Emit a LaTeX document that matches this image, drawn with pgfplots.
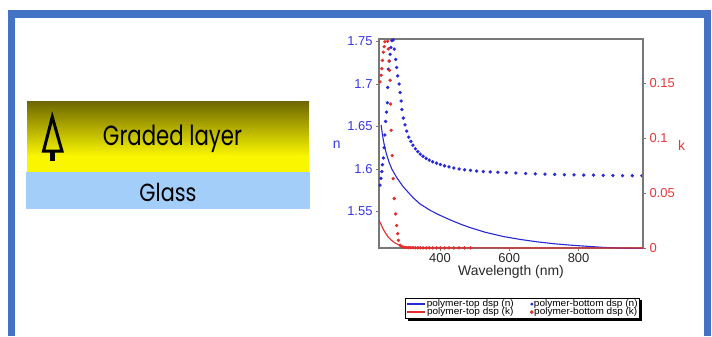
\documentclass[border=0pt]{standalone}
\usepackage{fontspec}
\setmainfont{Liberation Sans}
\newfontfamily\poppins{Poppins}
\usepackage{pgfplots}
\pgfplotsset{compat=1.18}
\pgfdeclarelayer{bgzero}
\pgfdeclarelayer{bgone}
\pgfsetlayers{bgzero,bgone,main}
\definecolor{frameblue}{RGB}{68,114,196}
\definecolor{olivetop}{RGB}{108,102,0}
\definecolor{ylw}{RGB}{250,246,0}
\definecolor{glass}{RGB}{163,206,250}
\definecolor{nblue}{RGB}{40,40,215}
\definecolor{kred}{RGB}{228,45,45}
\definecolor{nlab}{RGB}{55,55,225}
\definecolor{klab}{RGB}{232,55,55}
\definecolor{axgray}{RGB}{120,120,120}
\definecolor{txtgray}{RGB}{40,40,40}
\newcommand\legtext[1]{\scalebox{1.06}[1]{#1}}
\begin{document}
\begin{tikzpicture}
\begin{scope}[x=1bp,y=-1bp]
\useasboundingbox (0,0) rectangle (712,336);
\begin{pgfonlayer}{bgzero}
\fill[white] (0,0) rectangle (712,336);
\end{pgfonlayer}
\draw[frameblue, line width=7.5bp] (11.6,336) -- (11.6,14) -- (707.4,14) -- (707.4,336);
\shade[top color=olivetop, bottom color=ylw] (27,101) rectangle (309,156);
\fill[ylw] (27,155.5) rectangle (309,172);
\fill[glass] (26,172) rectangle (310,209);
\node[anchor=base, inner sep=0] at (172.5,145) {\resizebox{139bp}{20.5bp}{\poppins Graded layer}};
\node[anchor=base, inner sep=0] at (168,201.5) {\resizebox{57bp}{18.3bp}{\poppins Glass}};
\draw[line width=3bp, line join=miter] (52.3,117) -- (43.5,151.2) -- (62,151.2) -- cycle;
\fill (50,151) rectangle (55,161);
\end{scope}

\begin{axis}[
  scale only axis, width=264bp, height=209bp,
  at={(379bp,-248bp)}, anchor=south west,
  xmin=224, xmax=986, ymin=1.507, ymax=1.753,
  axis line style={axgray, line width=1.2bp},
  xtick={400,600,800}, ytick={1.55,1.6,1.65,1.7,1.75},
  xtick pos=bottom, ytick pos=left,
  tick align=outside, major tick length=3bp,
  tick style={axgray, line width=0.8bp},
  /pgf/number format/assume math mode=true,
  xticklabel style={font=\fontsize{13}{13}\selectfont, text=txtgray, yshift=1bp},
  yticklabel style={font=\fontsize{13}{13}\selectfont, text=nlab},
  ylabel={n}, ylabel style={font=\fontsize{14}{14}\selectfont, text=nlab, rotate=-90, at={(axis description cs:-0.16,0.493)}, anchor=center},
  xlabel={Wavelength (nm)}, xlabel style={font=\fontsize{14}{14}\selectfont, text=txtgray, at={(axis description cs:0.5,-0.116)}, anchor=center},
]
\addplot[nblue, line width=1.1bp] coordinates {
(230,1.652) (233,1.643) (236.5,1.634) (241,1.625) (246,1.617) (253,1.608) (261,1.600)
(275,1.590) (294,1.579) (323,1.566) (342,1.559) (371,1.5515) (400,1.5455) (430,1.540)
(460,1.535) (487,1.531) (531,1.5255) (583,1.5205) (630,1.5172) (680,1.5143) (730,1.512)
(776,1.5104) (825,1.509) (873,1.5077) (910,1.507) (950,1.5065) (986,1.506)};
\addplot[nblue, only marks, mark=*, mark size=1.5] coordinates {
(227,1.581) (229.5,1.589) (232,1.597) (234,1.605) (236.5,1.613) (239,1.625) (241,1.640)
(243,1.656) (245.5,1.667) (248,1.678) (249,1.696) (251,1.7175) (253.5,1.727) (256,1.735)
(258.5,1.743) (261,1.751) (265,1.752) (268,1.741) (272,1.729) (275,1.7195) (278,1.7095)
(282,1.700) (285,1.690) (288,1.680) (290,1.670) (294,1.660) (299,1.652) (304,1.6445)
(310,1.6375) (316,1.6325) (322,1.628) (329,1.6238) (336,1.6205) (343,1.6175) (351,1.615)
(360,1.6125) (369,1.6105) (379,1.6085) (390,1.6068) (401,1.6053) (413,1.6038) (426,1.6024)
(440,1.6011) (455,1.600) (471,1.5991) (488,1.5983) (506,1.5976) (525,1.597) (545,1.5965)
(567,1.5961) (591,1.5957) (619,1.5952) (647,1.5947) (675,1.5943) (703,1.5939) (731,1.5936)
(759,1.5933) (787,1.5931) (815,1.5929) (843,1.5927) (871,1.5925) (899,1.5923) (927,1.5922)
(955,1.5921) (983,1.592)};
\end{axis}

\begin{axis}[
  scale only axis, width=264bp, height=209bp,
  at={(379bp,-248bp)}, anchor=south west,
  xmin=224, xmax=986, ymin=0, ymax=0.19,
  axis x line=none, axis y line*=right,
  axis line style={axgray, line width=1.2bp, -},
  ytick={0,0.05,0.1,0.15},
  tick align=outside, major tick length=3bp,
  tick style={axgray, line width=0.8bp},
  scaled y ticks=false,
  /pgf/number format/assume math mode=true,
  yticklabel style={font=\fontsize{13}{13}\selectfont, text=klab, /pgf/number format/fixed, /pgf/number format/precision=2},
  ylabel={k}, ylabel style={font=\fontsize{14}{14}\selectfont, text=klab, rotate=-90, at={(axis description cs:1.1466,0.493)}, anchor=center},
  legend columns=2,
  legend style={name=leg, at={(0.0985,-0.239)}, anchor=north west, font=\fontsize{9.5}{9.5}\selectfont,
    draw=black, line width=0.7bp, fill=white,
    inner sep=1bp, row sep=-1.5bp, /tikz/every even column/.append style={column sep=16bp},
    nodes={inner sep=0.6bp}},
]
\addlegendimage{legend image code/.code={\draw[draw=nblue, line width=1.8bp] (0bp,0bp) -- (18bp,0bp);}}
\addlegendentry{\legtext{polymer-top dsp (n)}}
\addlegendimage{nblue, only marks, mark=*, mark size=1.1}
\addlegendentry{\legtext{polymer-bottom dsp (n)}}
\addplot[kred, line width=1.1bp, forget plot] coordinates {
(224,0.0253) (228,0.0225) (232,0.020) (236,0.0172) (241,0.0145) (246,0.012) (251,0.0098)
(256,0.0082) (261,0.0068) (266,0.0055) (272,0.0043) (280,0.003) (290,0.0018) (300,0.0011)
(315,0.0006) (335,0.0003) (370,0.0002) (450,0.0001) (600,0.00005) (986,0)};
\addlegendimage{legend image code/.code={\draw[draw=kred, line width=1.8bp] (0bp,0bp) -- (18bp,0bp);}}
\addlegendentry{\legtext{polymer-top dsp (k)}}
\addplot[kred, only marks, mark=*, mark size=1.5] coordinates {
(227,0.151) (230,0.157) (232,0.163) (234,0.1705) (236.5,0.178) (239,0.183) (241,0.1875)
(244,0.193) (247,0.194) (249,0.188) (251,0.181) (253,0.170) (254.5,0.1615) (256,0.1525)
(257.5,0.131) (259,0.107) (262,0.084) (265,0.063) (268,0.045) (272,0.031) (275,0.0205)
(278,0.013) (280,0.007) (285,0.0025) (290,0.0012) (296,0.0007) (303,0.0005) (310,0.0004)
(316,0.0003) (322,0.0003) (329,0.0002) (336,0.0002) (343,0.0002) (351,0.0002) (360,0.0001)
(369,0.0001) (379,0.0001) (390,0.0001) (401,0.0001) (413,0.0001) (426,0.0001) (440,0.0001)
(455,0.0001) (471,0.0001) (488,0.0001)};
\addlegendentry{\legtext{polymer-bottom dsp (k)}}
\end{axis}
\begin{pgfonlayer}{bgone}
\fill[black] ([xshift=2.5bp,yshift=-2.5bp]leg.south west) rectangle ([xshift=2.5bp,yshift=-2.5bp]leg.north east);
\end{pgfonlayer}
\end{tikzpicture}
\end{document}
